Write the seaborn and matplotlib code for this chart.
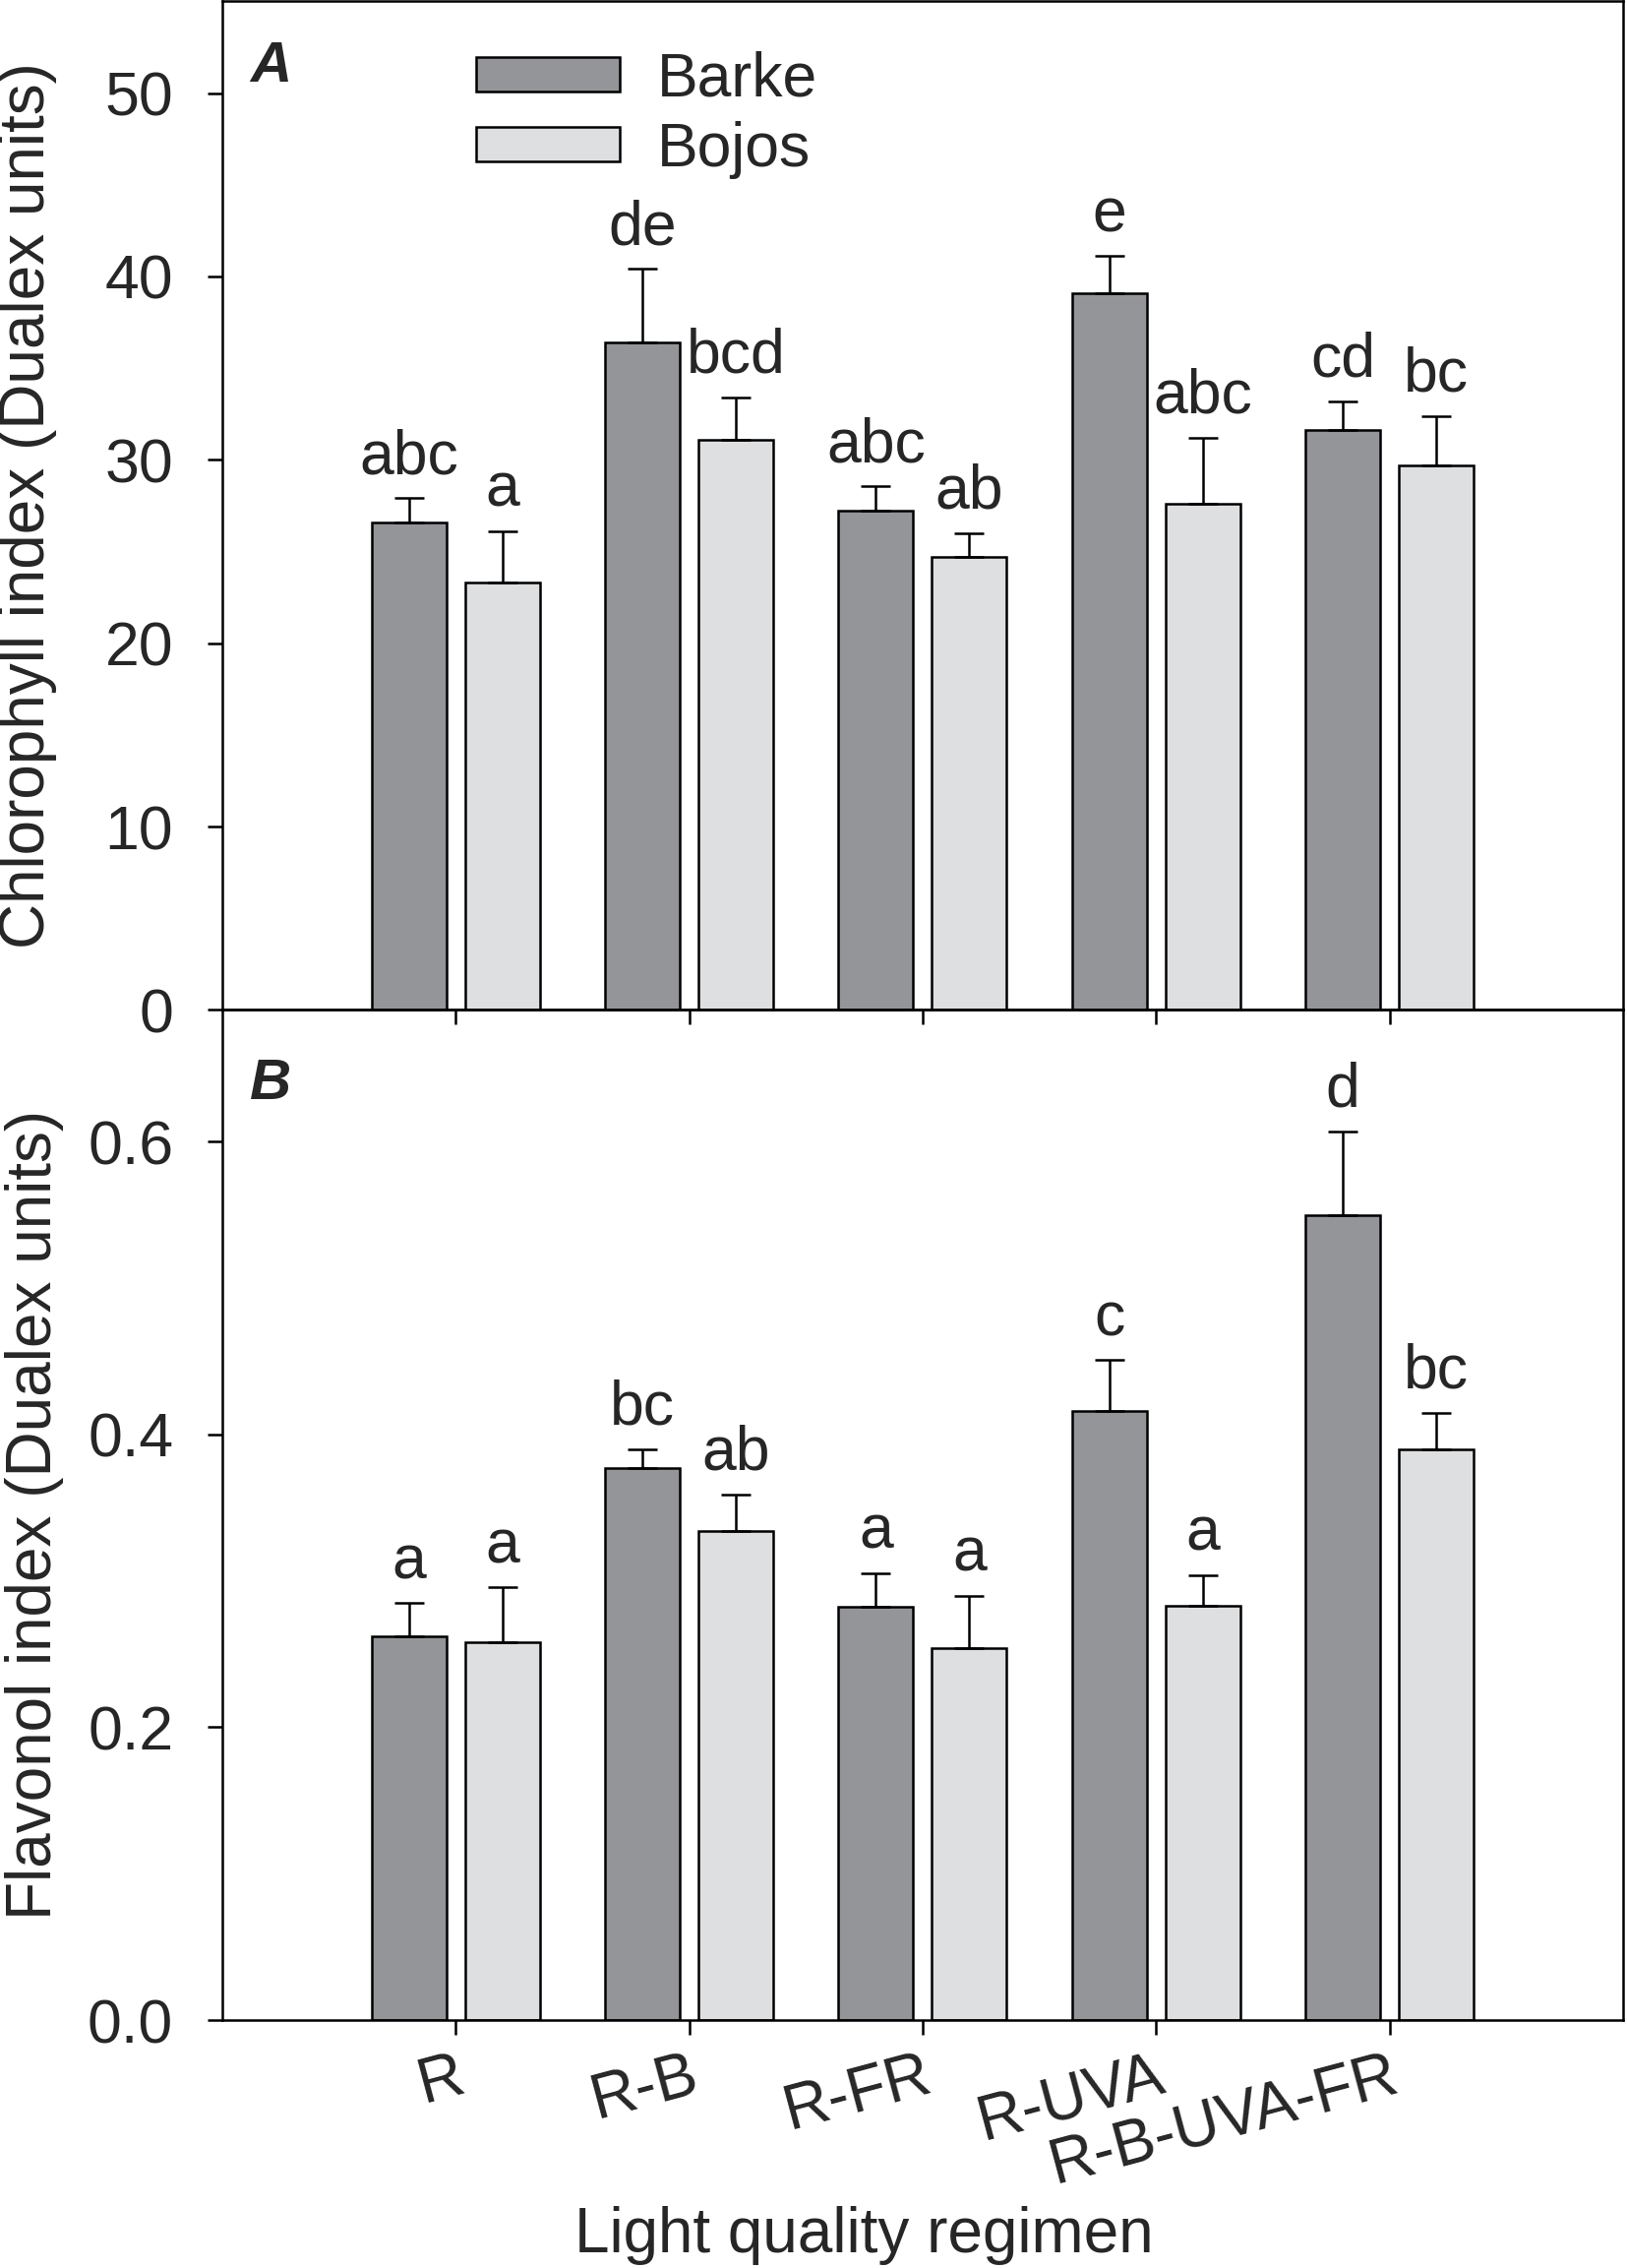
import numpy as np
import pandas as pd
import matplotlib
matplotlib.use('Agg')
import matplotlib.pyplot as plt
import seaborn as sns

# ---------------- data ----------------
regimens = ['R', 'R-B', 'R-FR', 'R-UVA', 'R-B-UVA-FR']
cultivars = ['Barke', 'Bojos']

chl_barke = [26.6, 36.4, 27.2, 39.1, 31.6]
chl_barke_se = [1.3, 4.0, 1.35, 2.0, 1.6]
chl_bojos = [23.3, 31.1, 24.7, 27.6, 29.7]
chl_bojos_se = [2.8, 2.3, 1.3, 3.6, 2.7]
chl_letters_barke = ['abc', 'de', 'abc', 'e', 'cd']
chl_letters_bojos = ['a', 'bcd', 'ab', 'abc', 'bc']

flav_barke = [0.262, 0.377, 0.282, 0.416, 0.550]
flav_barke_se = [0.023, 0.013, 0.0235, 0.035, 0.057]
flav_bojos = [0.258, 0.334, 0.254, 0.283, 0.390]
flav_bojos_se = [0.0375, 0.025, 0.036, 0.021, 0.025]
flav_letters_barke = ['a', 'bc', 'a', 'c', 'd']
flav_letters_bojos = ['a', 'ab', 'a', 'a', 'bc']

colors = ['#949599', '#dedfe1']

df = pd.DataFrame({
    'regimen': regimens * 2,
    'cultivar': ['Barke'] * 5 + ['Bojos'] * 5,
    'chl': chl_barke + chl_bojos,
    'flav': flav_barke + flav_bojos,
})

# ---------------- style ----------------
sns.set_style('ticks')
plt.rcParams['font.family'] = ['Liberation Sans', 'DejaVu Sans']
LW = 1.8
FS = 45

fig = plt.figure(figsize=(16.54, 23.05), dpi=100)
fig.patch.set_facecolor('white')
ax1 = fig.add_axes([0.1366, 0.5547, 0.8609, 0.4447])
ax2 = fig.add_axes([0.1366, 0.1093, 0.8609, 0.4454])


def draw(ax, col, ses, letters, ylim, yticks, fmt):
    sns.barplot(data=df, x='regimen', y=col, hue='cultivar', order=regimens,
                hue_order=cultivars, palette=colors, saturation=1,
                width=0.8, gap=0.2, edgecolor='black', linewidth=LW,
                errorbar=None, ax=ax, zorder=2)
    for cont, se, lets in zip(ax.containers, ses, letters):
        for bar, s, t in zip(cont, se, lets):
            x = bar.get_x() + bar.get_width() / 2
            h = bar.get_height()
            ax.errorbar([x], [h], yerr=[[0], [s]], fmt='none', ecolor='black',
                        elinewidth=LW, capsize=10.5, capthick=LW, zorder=3)
            ax.annotate(t, (x, h + s), xytext=(0, 18), textcoords='offset points',
                        ha='center', va='baseline', fontsize=FS)
    ax.set_xlim(-1, 5)
    ax.set_ylim(*ylim)
    ax.set_yticks(yticks)
    ax.set_yticklabels([fmt % v for v in yticks])
    ax.set_facecolor('none')
    for sp in ax.spines.values():
        sp.set_visible(True)
        sp.set_linewidth(LW)
        sp.set_color('black')
    ax.tick_params(axis='both', direction='out', length=10.8, width=LW,
                   color='black', labelsize=45)
    ax.tick_params(axis='y', pad=25)
    ax.set_xlabel('')


draw(ax1, 'chl', [chl_barke_se, chl_bojos_se], [chl_letters_barke, chl_letters_bojos],
     (0, 55), [0, 10, 20, 30, 40, 50], '%d')
draw(ax2, 'flav', [flav_barke_se, flav_bojos_se], [flav_letters_barke, flav_letters_bojos],
     (0, 0.69), [0.0, 0.2, 0.4, 0.6], '%.1f')

ax1.set_zorder(3)
ax1.set_xticklabels([])
ax2.set_xticks(range(len(regimens)))
ax2.set_xticklabels(regimens, rotation=15, ha='right', va='top',
                    rotation_mode='anchor', fontsize=46)
ax2.tick_params(axis='x', pad=8)

ax1.set_ylabel('Chlorophyll index (Dualex units)', fontsize=46)
ax2.set_ylabel('Flavonol index (Dualex units)', fontsize=46)
ax1.yaxis.set_label_coords(-0.118, 0.5)
ax2.yaxis.set_label_coords(-0.113, 0.5)
ax2.set_xlabel('Light quality regimen', fontsize=46)
ax2.xaxis.set_label_coords(0.458, -0.184)

ax1.text(0.02, 0.92, 'A', transform=ax1.transAxes, fontsize=42,
         fontweight='bold', fontstyle='italic', va='baseline', ha='left')
ax2.text(0.02, 0.912, 'B', transform=ax2.transAxes, fontsize=42,
         fontweight='bold', fontstyle='italic', va='baseline', ha='left')

leg = ax2.get_legend()
if leg is not None:
    leg.remove()
handles, labels = ax1.get_legend_handles_labels()
ax1.legend(handles[:2], labels[:2], loc='upper left', bbox_to_anchor=(0.181, 0.951),
           frameon=False, fontsize=45, handlelength=2.34, handleheight=0.48,
           handletextpad=0.6, labelspacing=0.2, borderpad=0, borderaxespad=0)

fig.savefig('out.png', dpi=100, facecolor='white')
